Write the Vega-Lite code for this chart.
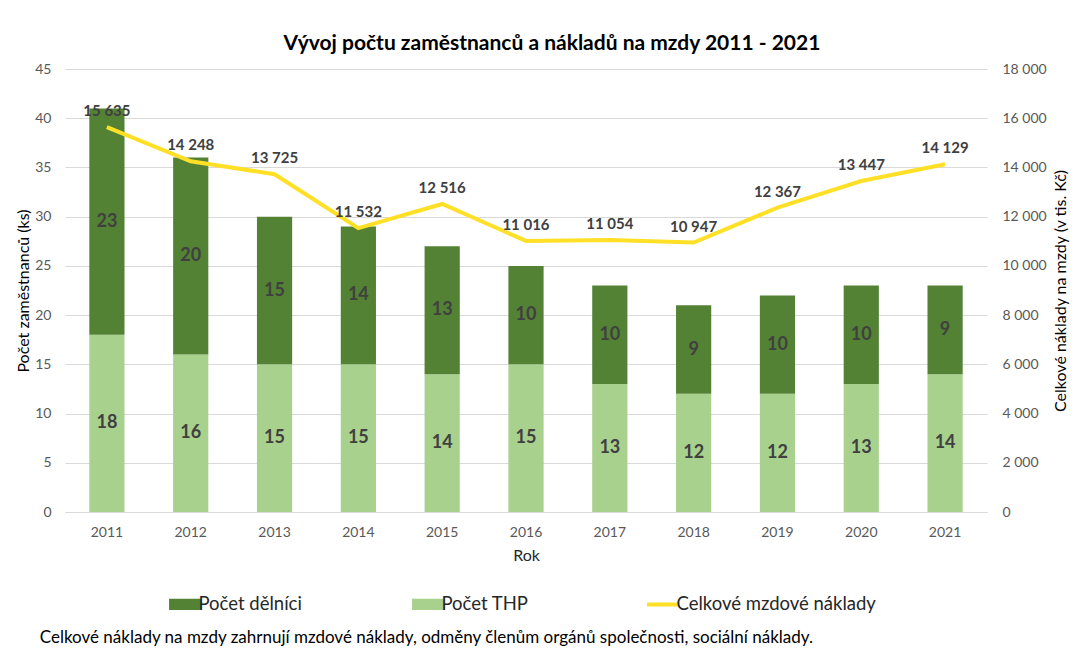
{
  "$schema": "https://vega.github.io/schema/vega-lite/v6.json",
  "padding": {"left": 15, "top": 33, "right": 10, "bottom": 5},
  "background": "white",
  "config": {
    "font": "Lato",
    "view": {"stroke": null},
    "legend": {"layout": {"bottom": {"anchor": "middle"}}},
    "locale": {"number": {"decimal": ",", "thousands": " ", "grouping": [3], "currency": ["", " Kč"]}}
  },
  "datasets": {
    "bars": [
      {"rok": "2011", "typ": "Počet THP", "pocet": 18},
      {"rok": "2011", "typ": "Počet dělníci", "pocet": 23},
      {"rok": "2012", "typ": "Počet THP", "pocet": 16},
      {"rok": "2012", "typ": "Počet dělníci", "pocet": 20},
      {"rok": "2013", "typ": "Počet THP", "pocet": 15},
      {"rok": "2013", "typ": "Počet dělníci", "pocet": 15},
      {"rok": "2014", "typ": "Počet THP", "pocet": 15},
      {"rok": "2014", "typ": "Počet dělníci", "pocet": 14},
      {"rok": "2015", "typ": "Počet THP", "pocet": 14},
      {"rok": "2015", "typ": "Počet dělníci", "pocet": 13},
      {"rok": "2016", "typ": "Počet THP", "pocet": 15},
      {"rok": "2016", "typ": "Počet dělníci", "pocet": 10},
      {"rok": "2017", "typ": "Počet THP", "pocet": 13},
      {"rok": "2017", "typ": "Počet dělníci", "pocet": 10},
      {"rok": "2018", "typ": "Počet THP", "pocet": 12},
      {"rok": "2018", "typ": "Počet dělníci", "pocet": 9},
      {"rok": "2019", "typ": "Počet THP", "pocet": 12},
      {"rok": "2019", "typ": "Počet dělníci", "pocet": 10},
      {"rok": "2020", "typ": "Počet THP", "pocet": 13},
      {"rok": "2020", "typ": "Počet dělníci", "pocet": 10},
      {"rok": "2021", "typ": "Počet THP", "pocet": 14},
      {"rok": "2021", "typ": "Počet dělníci", "pocet": 9}
    ],
    "costs": [
      {"rok": "2011", "naklady": 15635},
      {"rok": "2012", "naklady": 14248},
      {"rok": "2013", "naklady": 13725},
      {"rok": "2014", "naklady": 11532},
      {"rok": "2015", "naklady": 12516},
      {"rok": "2016", "naklady": 11016},
      {"rok": "2017", "naklady": 11054},
      {"rok": "2018", "naklady": 10947},
      {"rok": "2019", "naklady": 12367},
      {"rok": "2020", "naklady": 13447},
      {"rok": "2021", "naklady": 14129}
    ]
  },
  "title": {
    "text": "Celkové náklady na mzdy zahrnují mzdové náklady, odměny členům orgánů společnosti, sociální náklady.",
    "orient": "bottom",
    "anchor": "start",
    "frame": "bounds",
    "fontSize": 17,
    "fontWeight": "normal",
    "color": "#000000",
    "dx": 24,
    "offset": 16
  },
  "vconcat": [
    {
      "width": 922,
      "height": 443,
      "title": {
        "text": "Vývoj počtu zaměstnanců a nákladů na mzdy 2011 - 2021",
        "fontSize": 21,
        "fontWeight": "bold",
        "color": "#000000",
        "anchor": "middle",
        "frame": "bounds",
        "dx": 10,
        "offset": 8
      },
      "encoding": {
        "x": {
          "field": "rok",
          "type": "ordinal",
          "scale": {"paddingInner": 0.58, "paddingOuter": 0.29},
          "axis": {
            "title": "Rok",
            "labelAngle": 0,
            "ticks": false,
            "domainColor": "#d9d9d9",
            "labelColor": "#595959",
            "labelFontSize": 14,
            "labelPadding": 13,
            "titleFontSize": 16,
            "titleColor": "#262626",
            "titleFontWeight": "normal",
            "titlePadding": 8
          }
        }
      },
      "layer": [
        {
          "data": {"name": "bars"},
          "transform": [
            {"stack": "pocet", "groupby": ["rok"], "sort": [{"field": "typ", "order": "ascending"}], "as": ["y0", "y1"]}
          ],
          "layer": [
            {
              "mark": {"type": "bar"},
              "encoding": {
                "y": {
                  "field": "y1",
                  "type": "quantitative",
                  "scale": {"domain": [0, 45], "nice": false},
                  "axis": {
                    "title": "Počet zaměstnanců (ks)",
                    "values": [0, 5, 10, 15, 20, 25, 30, 35, 40, 45],
                    "grid": true,
                    "gridColor": "#d9d9d9",
                    "domain": false,
                    "ticks": false,
                    "labelPadding": 14,
                    "labelColor": "#595959",
                    "labelFontSize": 14,
                    "titleFontSize": 16,
                    "titleColor": "#000000",
                    "titleFontWeight": "normal",
                    "titlePadding": 3
                  }
                },
                "y2": {"field": "y0"},
                "color": {
                  "field": "typ",
                  "type": "nominal",
                  "scale": {
                    "domain": ["Počet dělníci", "Počet THP", "Celkové mzdové náklady"],
                    "range": ["#548235", "#a9d18e", "#ffe026"]
                  },
                  "legend": {
                    "title": null,
                    "orient": "bottom",
                    "direction": "horizontal",
                    "labelFontSize": 18.5,
                    "labelColor": "#262626",
                    "labelLimit": 400,
                    "columnPadding": 110,
                    "labelOffset": 4,
                    "symbolSize": 1050,
                    "offset": 32,
                    "encode": {
                      "symbols": {
                        "update": {
                          "shape": {"signal": "datum.label === 'Celkové mzdové náklady' ? 'M-1,0H1' : 'M-1,-0.34H1V0.34H-1Z'"},
                          "fill": {"signal": "datum.label === 'Celkové mzdové náklady' ? 'transparent' : scale('color', datum.value)"},
                          "stroke": {"signal": "scale('color', datum.value)"},
                          "strokeWidth": {"signal": "datum.label === 'Celkové mzdové náklady' ? 4 : 0"},
                          "opacity": {"value": 1}
                        }
                      }
                    }
                  }
                }
              }
            },
            {
              "transform": [
                {"fold": ["y0", "y1"], "as": ["kraj", "hodnota"]},
                {"aggregate": [{"op": "mean", "field": "hodnota", "as": "stred"}], "groupby": ["rok", "typ", "pocet"]}
              ],
              "mark": {"type": "text", "fontSize": 18, "fontWeight": "bold", "color": "#404040", "baseline": "middle"},
              "encoding": {
                "y": {"field": "stred", "type": "quantitative"},
                "text": {"field": "pocet", "type": "quantitative"}
              }
            }
          ]
        },
        {
          "data": {"name": "costs"},
          "encoding": {
            "y": {
              "field": "naklady",
              "type": "quantitative",
              "scale": {"domain": [0, 18000], "nice": false},
              "axis": {
                "orient": "right",
                "title": "Celkové náklady na mzdy (v tis. Kč)",
                "values": [0, 2000, 4000, 6000, 8000, 10000, 12000, 14000, 16000, 18000],
                "format": ",d",
                "grid": false,
                "domain": false,
                "ticks": false,
                "labelPadding": 15,
                "labelColor": "#595959",
                "labelFontSize": 14,
                "titleFontSize": 16,
                "titleColor": "#000000",
                "titleFontWeight": "normal",
                "titleAngle": 270,
                "titlePadding": 22
              }
            }
          },
          "layer": [
            {
              "mark": {"type": "line", "strokeWidth": 4, "color": "#ffe026"},
              "encoding": {
                "color": {"datum": "Celkové mzdové náklady"}
              }
            },
            {
              "mark": {"type": "text", "fontSize": 15, "fontWeight": "bold", "color": "#404040", "dy": -16, "baseline": "middle"},
              "encoding": {
                "text": {"field": "naklady", "type": "quantitative", "format": ",d"}
              }
            }
          ]
        }
      ],
      "resolve": {"scale": {"y": "independent"}}
    }
  ]
}
